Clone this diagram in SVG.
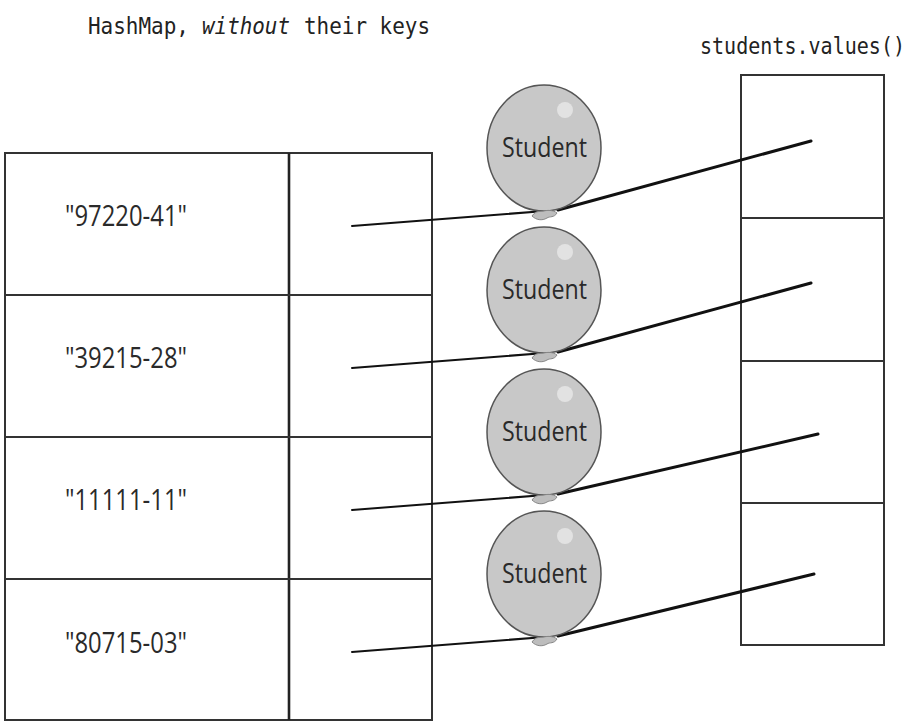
<svg xmlns="http://www.w3.org/2000/svg" width="916" height="721" viewBox="0 0 916 721">
  <style>
    .grid { fill: none; stroke: #333; stroke-width: 2; }
    .divider { stroke: #222; stroke-width: 2.6; }
    .mono { font-family: "DejaVu Sans Mono", "Liberation Mono", monospace; font-size: 23px; fill: #222; }
    .key { font-family: "Open Sans", "Noto Sans", sans-serif; font-size: 30px; fill: #2a2a2a; }
    .label { font-family: "Open Sans", "Noto Sans", sans-serif; font-size: 28px; fill: #2a2a2a; }
    .body { fill: #c8c8c8; stroke: #555; stroke-width: 1.5; }
    .shine { fill: #e2e2e2; }
    .knot { fill: #bdbdbd; stroke: #888; stroke-width: 1; }
    .thin { stroke: #111; stroke-width: 2; fill: none; stroke-linecap: round; }
    .thick { stroke: #111; stroke-width: 3; fill: none; stroke-linecap: round; }
  </style>
  <defs>
    <g id="balloon">
      <ellipse class="body" cx="0" cy="0" rx="57" ry="63"/>
      <circle class="shine" cx="21" cy="-38" r="8"/>
      <path class="knot" d="M-12,68 C-8,62 -4,64 0,63 C4,62 9,62 13,65 C10,70 6,68 3,70 C-2,73 -8,72 -12,68 Z"/>
    </g>
  </defs>

  <!-- headings -->
  <g id="heading-left">
    <text class="mono" x="88" y="34" textLength="101" lengthAdjust="spacingAndGlyphs">HashMap,</text>
    <text class="mono" x="202" y="34" textLength="88" lengthAdjust="spacingAndGlyphs" font-style="italic" fill="#444">without</text>
    <text class="mono" x="304" y="34" textLength="126" lengthAdjust="spacingAndGlyphs">their keys</text>
  </g>
  <text class="mono" x="700" y="54" font-size="20" textLength="205" lengthAdjust="spacingAndGlyphs">students.values()</text>

  <!-- HashMap table: keys and value slots -->
  <g id="hashmap">
    <rect class="grid" x="5" y="153" width="427" height="567"/>
    <line class="divider" x1="289" y1="153" x2="289" y2="720"/>
    <line class="grid" x1="5" y1="295" x2="432" y2="295"/>
    <line class="grid" x1="5" y1="437" x2="432" y2="437"/>
    <line class="grid" x1="5" y1="579" x2="432" y2="579"/>
    <text class="key" x="65" y="226" textLength="122" lengthAdjust="spacingAndGlyphs">"97220-41"</text>
    <text class="key" x="65" y="368" textLength="122" lengthAdjust="spacingAndGlyphs">"39215-28"</text>
    <text class="key" x="65" y="510" textLength="122" lengthAdjust="spacingAndGlyphs">"11111-11"</text>
    <text class="key" x="65" y="653" textLength="122" lengthAdjust="spacingAndGlyphs">"80715-03"</text>
  </g>

  <!-- values() collection -->
  <g id="values">
    <rect class="grid" x="741" y="75" width="143" height="570"/>
    <line class="grid" x1="741" y1="218" x2="884" y2="218"/>
    <line class="grid" x1="741" y1="361" x2="884" y2="361"/>
    <line class="grid" x1="741" y1="503" x2="884" y2="503"/>
  </g>

  <!-- references from both structures to the shared Student objects -->
  <g id="connectors">
    <line class="thin" x1="352" y1="226" x2="545" y2="211"/>
    <line class="thick" x1="558" y1="210" x2="811" y2="141"/>
    <line class="thin" x1="352" y1="368" x2="545" y2="353"/>
    <line class="thick" x1="558" y1="352" x2="811" y2="283"/>
    <line class="thin" x1="352" y1="510" x2="545" y2="495"/>
    <line class="thick" x1="558" y1="494" x2="818" y2="434"/>
    <line class="thin" x1="352" y1="652" x2="545" y2="637"/>
    <line class="thick" x1="558" y1="636" x2="814" y2="574"/>
  </g>

  <g id="student1" transform="translate(544,148)">
    <use href="#balloon"/>
    <text class="label" x="-42" y="9" textLength="85" lengthAdjust="spacingAndGlyphs">Student</text>
  </g>
  <g id="student2" transform="translate(544,290)">
    <use href="#balloon"/>
    <text class="label" x="-42" y="9" textLength="85" lengthAdjust="spacingAndGlyphs">Student</text>
  </g>
  <g id="student3" transform="translate(544,432)">
    <use href="#balloon"/>
    <text class="label" x="-42" y="9" textLength="85" lengthAdjust="spacingAndGlyphs">Student</text>
  </g>
  <g id="student4" transform="translate(544,574)">
    <use href="#balloon"/>
    <text class="label" x="-42" y="9" textLength="85" lengthAdjust="spacingAndGlyphs">Student</text>
  </g>
</svg>
